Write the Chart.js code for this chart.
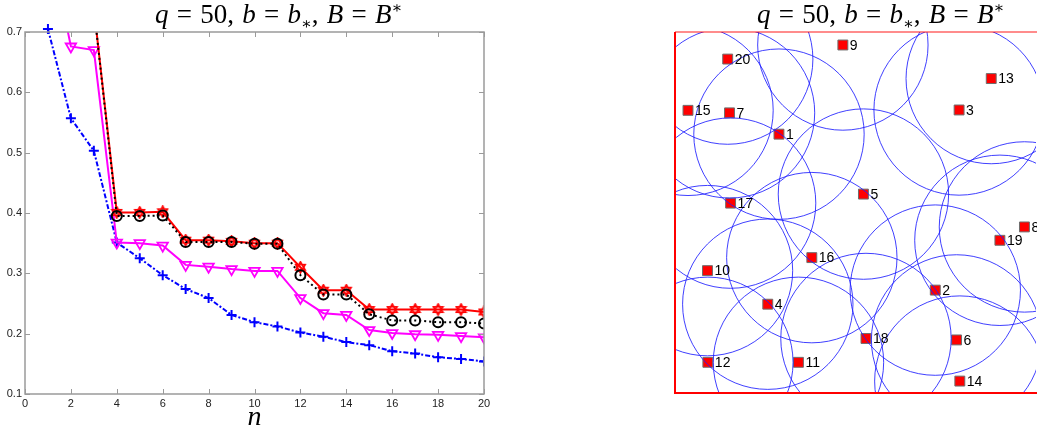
<!DOCTYPE html>
<html>
<head>
<meta charset="utf-8">
<script src="https://cdn.jsdelivr.net/npm/chart.js@4.4.1/dist/chart.umd.min.js"></script>
<style>
  body { margin: 0; background: #fff; width: 1037px; height: 426px; overflow: hidden; position: relative; }
  .panel { position: absolute; top: 0; height: 426px; }
  #leftBox { left: 0; width: 520px; }
  #rightBox { left: 640px; width: 397px; }
  .title { position: absolute; top: -1px; font-family: "Liberation Serif", "DejaVu Serif", serif; font-size: 27px; word-spacing: 1.5px; white-space: nowrap; color: #000; }
  .title sub, .title sup { font-size: 16px; line-height: 0; }
</style>
</head>
<body>
<div class="panel" id="leftBox"><canvas id="errChart"></canvas></div>
<div class="panel" id="rightBox"><canvas id="mapChart"></canvas></div>
<div class="title" style="left:155px"><i>q</i> = 50, <i>b</i> = <i>b</i><sub>∗</sub>, <i>B</i> = <i>B</i><sup>∗</sup></div>
<div class="title" style="left:757px"><i>q</i> = 50, <i>b</i> = <i>b</i><sub>∗</sub>, <i>B</i> = <i>B</i><sup>∗</sup></div>

<script>
// --- left panel data ---
const nValues = [1, 2, 3, 4, 5, 6, 7, 8, 9, 10, 11, 12, 13, 14, 15, 16, 17, 18, 19, 20];
const blueVals = [0.705, 0.557, 0.503, 0.351, 0.325, 0.297, 0.274, 0.259, 0.231, 0.219, 0.212, 0.202, 0.195, 0.186, 0.181, 0.171, 0.167, 0.161, 0.158, 0.154];
const magentaVals = [0.86, 0.676, 0.670, 0.351, 0.350, 0.346, 0.314, 0.311, 0.307, 0.304, 0.304, 0.259, 0.234, 0.231, 0.206, 0.201, 0.199, 0.198, 0.196, 0.194];
const redVals = [0.95, 0.85, 0.74, 0.401, 0.401, 0.402, 0.355, 0.355, 0.353, 0.350, 0.350, 0.310, 0.272, 0.272, 0.240, 0.240, 0.240, 0.240, 0.240, 0.236];
const blackVals = [0.95, 0.85, 0.74, 0.395, 0.395, 0.396, 0.352, 0.352, 0.352, 0.349, 0.349, 0.297, 0.265, 0.265, 0.232, 0.222, 0.222, 0.219, 0.219, 0.217];
const xTicks = [0, 2, 4, 6, 8, 10, 12, 14, 16, 18, 20];
const yTicks = [0.1, 0.2, 0.3, 0.4, 0.5, 0.6, 0.7];

// --- right panel data (centres in the unit square) ---
const siteIds = [1, 2, 3, 4, 5, 6, 7, 8, 9, 10, 11, 12, 13, 14, 15, 16, 17, 18, 19, 20];
const siteX = [0.288, 0.721, 0.787, 0.257, 0.522, 0.780, 0.151, 0.968, 0.465, 0.090, 0.342, 0.091, 0.876, 0.789, 0.036, 0.379, 0.154, 0.529, 0.900, 0.146];
const siteY = [0.717, 0.285, 0.784, 0.246, 0.551, 0.147, 0.776, 0.460, 0.964, 0.339, 0.085, 0.085, 0.871, 0.033, 0.783, 0.375, 0.526, 0.151, 0.423, 0.925];
const coverRadius = 0.236;

const pts = vals => nValues.map((n, i) => ({ x: n, y: vals[i] }));

// hexagram marker for the red series
function hexagram(size, color) {
  const c = document.createElement('canvas');
  c.width = c.height = size;
  const g = c.getContext('2d');
  const m = size / 2, r = size / 2 - 1;
  g.strokeStyle = color;
  g.lineWidth = 1.6;
  [-Math.PI / 2, Math.PI / 2].forEach(a0 => {
    g.beginPath();
    for (let k = 0; k < 3; k++) {
      const a = a0 + k * 2 * Math.PI / 3;
      const px = m + r * Math.cos(a), py = m + r * Math.sin(a);
      k ? g.lineTo(px, py) : g.moveTo(px, py);
    }
    g.closePath();
    g.stroke();
  });
  return c;
}

// MATLAB-like box with inward ticks
const boxTicks = {
  id: 'boxTicks',
  afterDraw(chart) {
    const { ctx, chartArea: a, scales } = chart;
    ctx.save();
    ctx.strokeStyle = '#9a9a9a';
    ctx.lineWidth = 1.5;
    ctx.strokeRect(a.left, a.top, a.right - a.left, a.bottom - a.top);
    ctx.lineWidth = 1;
    ctx.beginPath();
    xTicks.forEach(v => {
      const px = Math.round(scales.x.getPixelForValue(v)) + 0.5;
      ctx.moveTo(px, a.bottom); ctx.lineTo(px, a.bottom - 5);
      ctx.moveTo(px, a.top); ctx.lineTo(px, a.top + 5);
    });
    yTicks.forEach(v => {
      const py = Math.round(scales.y.getPixelForValue(v)) + 0.5;
      ctx.moveTo(a.left, py); ctx.lineTo(a.left + 5, py);
      ctx.moveTo(a.right, py); ctx.lineTo(a.right - 5, py);
    });
    ctx.stroke();
    ctx.restore();
  }
};

new Chart(document.getElementById('errChart'), {
  type: 'line',
  data: {
    datasets: [
      {
        data: pts(blackVals), borderColor: '#000', borderWidth: 2, borderDash: [2, 3],
        pointStyle: 'circle', pointRadius: 5, pointBorderWidth: 2,
        pointBorderColor: '#000', pointBackgroundColor: 'rgba(0,0,0,0)'
      },
      {
        data: pts(redVals), borderColor: '#ff0000', borderWidth: 2,
        pointStyle: hexagram(13, '#ff0000')
      },
      {
        data: pts(magentaVals), borderColor: '#ff00ff', borderWidth: 2,
        pointStyle: 'triangle', pointRotation: 180, pointRadius: 6, pointBorderWidth: 1.8,
        pointBorderColor: '#ff00ff', pointBackgroundColor: 'rgba(0,0,0,0)'
      },
      {
        data: pts(blueVals), borderColor: '#0000ff', borderWidth: 2, borderDash: [5, 2, 2, 2],
        pointStyle: 'cross', pointRadius: 5, pointBorderWidth: 2, pointBorderColor: '#0000ff',
        clip: { left: 0, right: 0, top: 8, bottom: 0 }
      }
    ]
  },
  options: {
    animation: false,
    responsive: true,
    maintainAspectRatio: false,
    layout: { autoPadding: false, padding: { top: 32, right: 36, bottom: 0, left: 0 } },
    plugins: { legend: { display: false }, tooltip: { enabled: false } },
    elements: { line: { tension: 0 } },
    scales: {
      x: {
        type: 'linear', min: 0, max: 20,
        grid: { display: false, drawTicks: false }, border: { display: false },
        afterBuildTicks: s => { s.ticks = xTicks.map(v => ({ value: v })); },
        afterFit: s => { s.height = 32; },
        ticks: { padding: 3, color: '#222', font: { family: 'Liberation Sans', size: 11 }, maxRotation: 0 },
        title: { display: true, text: 'n', padding: { top: 0, bottom: -8 }, color: '#000',
                 font: { family: 'Liberation Serif', size: 28, style: 'italic' } }
      },
      y: {
        min: 0.1, max: 0.7,
        grid: { display: false, drawTicks: false }, border: { display: false },
        afterBuildTicks: s => { s.ticks = yTicks.map(v => ({ value: v })); },
        afterFit: s => { s.width = 25; },
        ticks: { padding: 3, color: '#222', font: { family: 'Liberation Sans', size: 11 },
                 callback: v => v.toFixed(1) }
      }
    }
  },
  plugins: [boxTicks]
});

// right panel: red frame (left, top, bottom) and site numbers
const redFrame = {
  id: 'redFrame',
  afterDraw(chart) {
    const { ctx, chartArea: a } = chart;
    ctx.save();
    ctx.strokeStyle = '#ff0000';
    ctx.lineWidth = 2;
    ctx.beginPath();
    ctx.moveTo(a.left, a.top); ctx.lineTo(a.left, a.bottom); ctx.lineTo(a.right + 2, a.bottom);
    ctx.stroke();
    ctx.strokeStyle = 'rgba(255,0,0,0.45)';
    ctx.beginPath();
    ctx.moveTo(a.left, a.top); ctx.lineTo(a.right + 2, a.top);
    ctx.stroke();
    ctx.restore();
  }
};
const siteLabels = {
  id: 'siteLabels',
  afterDatasetsDraw(chart) {
    const { ctx } = chart;
    const meta = chart.getDatasetMeta(1);
    ctx.save();
    ctx.fillStyle = '#000';
    ctx.font = '14px "Liberation Sans", Arial, sans-serif';
    ctx.textBaseline = 'middle';
    meta.data.forEach((el, i) => ctx.fillText(String(siteIds[i]), el.x + 7, el.y + 1));
    ctx.restore();
  }
};

const sites = siteIds.map((id, i) => ({ x: siteX[i], y: siteY[i] }));
const radiusPx = ctx => {
  const s = ctx.chart.scales.x;
  return s.getPixelForValue(coverRadius) - s.getPixelForValue(0);
};

new Chart(document.getElementById('mapChart'), {
  type: 'scatter',
  data: {
    datasets: [
      {
        data: sites, pointStyle: 'circle', pointRadius: radiusPx, pointHoverRadius: radiusPx,
        pointBorderColor: 'rgba(30,30,255,0.85)', pointBorderWidth: 1,
        pointBackgroundColor: 'rgba(0,0,0,0)', clip: 0
      },
      {
        data: sites, pointStyle: 'rect', pointRadius: 7, pointBorderWidth: 1,
        pointBorderColor: '#6e6e6e', pointBackgroundColor: '#ff0000', clip: false
      }
    ]
  },
  options: {
    animation: false,
    responsive: true,
    maintainAspectRatio: false,
    layout: { autoPadding: false, padding: { top: 32, right: 1, bottom: 33, left: 35 } },
    plugins: { legend: { display: false }, tooltip: { enabled: false } },
    scales: {
      x: { type: 'linear', min: 0, max: 1, display: false },
      y: { type: 'linear', min: 0, max: 1, display: false }
    }
  },
  plugins: [redFrame, siteLabels]
});
</script>
</body>
</html>
